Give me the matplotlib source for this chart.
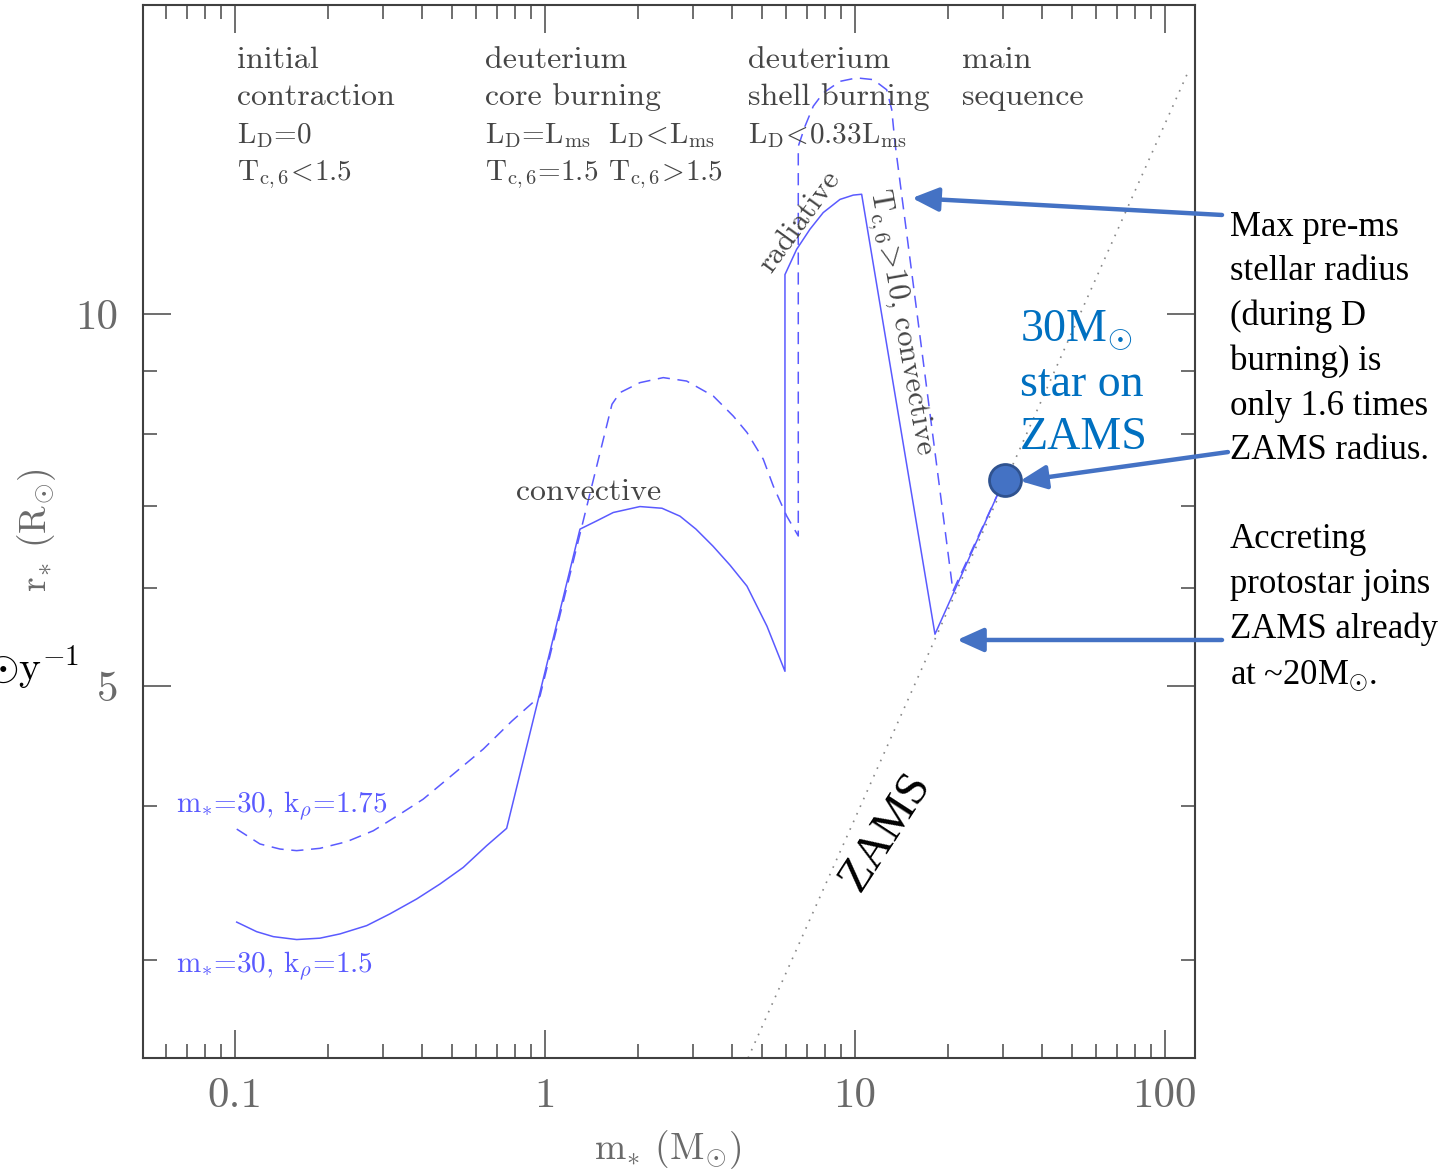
import numpy as np
import matplotlib
matplotlib.use("Agg")
import matplotlib.pyplot as plt
from matplotlib.patches import FancyArrowPatch
from matplotlib.ticker import FixedLocator, NullFormatter

# ==========================================
# 資料：質量 (M_sun) 與 半徑 (R_sun)
# ==========================================
# m*=30, k_rho=1.5 (實線)
solid_mass = [0.1013, 0.1175, 0.1329, 0.1581, 0.188, 0.2182, 0.266, 0.3162, 0.3856, 0.4584,
              0.5451, 0.6483, 0.7522,
              1.297, 1.469, 1.661, 2.025, 2.385, 2.726, 3.07, 3.483, 3.953, 4.483, 5.202, 5.946,
              5.946, 6.486, 7.159, 7.901, 8.947, 9.874, 10.51,
              18.12, 29.36]
solid_radius = [3.221, 3.164, 3.135, 3.118, 3.126, 3.151, 3.2, 3.271, 3.363, 3.458,
                3.567, 3.714, 3.836,
                6.701, 6.805, 6.912, 6.989, 6.967, 6.865, 6.701, 6.492, 6.266, 6.026, 5.592, 5.141,
                10.77, 11.29, 11.72, 12.09, 12.39, 12.49, 12.51,
                5.509, 7.218]

# m*=30, k_rho=1.75 (虛線)
dashed_mass = [0.1013, 0.1204, 0.1397, 0.1581, 0.188, 0.2293, 0.2794, 0.3405, 0.4049, 0.506,
               0.6324, 0.7825, 0.9636,
               1.645, 1.746, 2.025, 2.407, 2.865, 3.491, 4.05, 4.483, 5.061, 5.451, 6.022, 6.564,
               6.564, 6.9, 7.336, 7.901, 8.947, 10.13, 11.46, 12.66, 13.14, 13.46,
               20.71, 29.36]
dashed_radius = [3.831, 3.726, 3.691, 3.68, 3.696, 3.742, 3.819, 3.939, 4.051, 4.244,
                 4.447, 4.686, 4.908,
                 8.457, 8.643, 8.805, 8.888, 8.831, 8.588, 8.273, 8.025, 7.634, 7.262, 6.867, 6.616,
                 13.68, 14.2, 14.74, 15.11, 15.44, 15.54, 15.49, 15.2, 14.65, 13.77,
                 5.97, 7.218]

# ZAMS (點線)
zams_mass = [4.52, 118.6]
zams_radius = [2.5, 15.7]

# 30 M_sun 星在 ZAMS 上的位置
star_mass = [30.5]
star_radius = [7.34]

x_ticks = [0.1, 1, 10, 100]
x_ticklabels = ["0.1", "1", "10", "100"]
y_ticks = [5, 10]
y_ticklabels = ["5", "10"]
x_minor = [m * d for d in [0.01, 0.1, 1, 10, 100] for m in range(2, 10)]
y_minor = [3, 4, 6, 7, 8, 9]

LINE_COLOR = "#5a5aff"
GRAY_TEXT = "#454545"
TICK_TEXT = "#6a6a6a"
ARROW_COLOR = "#4472c4"

# 不等號前後的數學間距稍微縮小
LT = r"$\!<\!$"
GT = r"$\!>\!$"

plt.rcParams["mathtext.fontset"] = "custom"
plt.rcParams["mathtext.rm"] = "Liberation Serif"
plt.rcParams["mathtext.it"] = "Liberation Serif:italic"
plt.rcParams["axes.unicode_minus"] = False

fig = plt.figure(figsize=(14.46, 11.76), dpi=100)
ax = fig.add_axes([0.0989, 0.1003, 0.7275, 0.8954])

ax.plot(zams_mass, zams_radius, color="#888888", lw=1.2, linestyle=(0, (1, 4)))
ax.plot(solid_mass, solid_radius, color=LINE_COLOR, lw=1.1)
ax.plot(dashed_mass, dashed_radius, color=LINE_COLOR, lw=1.1, dashes=(8, 5))
ax.plot(star_mass, star_radius, "o", ms=23, mfc="#4472c4", mec="#2f528f", mew=2,
        zorder=5, clip_on=False)

ax.set_xscale("log")
ax.set_yscale("log")
ax.set_xlim(0.0505, 125)
ax.set_ylim(2.5, 17.8)

# 刻度設定
ax.xaxis.set_major_locator(FixedLocator(x_ticks))
ax.xaxis.set_minor_locator(FixedLocator(x_minor))
ax.yaxis.set_major_locator(FixedLocator(y_ticks))
ax.yaxis.set_minor_locator(FixedLocator(y_minor))
ax.set_xticklabels(x_ticklabels, family="cmr10", fontsize=31, color=TICK_TEXT)
ax.set_yticklabels(y_ticklabels, family="cmr10", fontsize=31, color=TICK_TEXT)
ax.xaxis.set_minor_formatter(NullFormatter())
ax.yaxis.set_minor_formatter(NullFormatter())
ax.tick_params(which="both", direction="in", top=True, right=True, color="#555555", width=1.2)
ax.tick_params(which="major", length=20)
ax.tick_params(which="minor", length=10)
ax.tick_params(axis="x", which="major", pad=14)
ax.tick_params(axis="y", which="major", pad=18)
for s in ax.spines.values():
    s.set_color("#404040")
    s.set_linewidth(1.5)

# 軸標籤
ax.text(0.499, -0.087, r"m$_{*}$ (M$_{\odot}$)", transform=ax.transAxes, ha="center",
        va="center", family="cmr10", math_fontfamily="cm", fontsize=27, color=TICK_TEXT)
ax.text(-0.101, 0.501, r"r$_{*}$ (R$_{\odot}$)", transform=ax.transAxes, ha="center",
        va="center", rotation=90, family="cmr10", math_fontfamily="cm", fontsize=27,
        color=TICK_TEXT)

# 階段標註 (灰色)
def gray(x, y, s, size=23, **kw):
    ax.text(x, y, s, transform=ax.transAxes, family="cmr10", math_fontfamily="cm",
            fontsize=size, color=GRAY_TEXT, va="baseline", **kw)

gray(0.0894, 0.940, "initial")
gray(0.0894, 0.905, "contraction")
gray(0.0894, 0.869, r"L$_{\mathrm{D}}$=0", size=21)
gray(0.0894, 0.834, r"T$_{\mathrm{c,6}}$" + LT + "1.5", size=21)
gray(0.325, 0.940, "deuterium")
gray(0.325, 0.905, "core burning")
gray(0.325, 0.869, r"L$_{\mathrm{D}}$=L$_{\mathrm{ms}}$", size=21)
gray(0.325, 0.834, r"T$_{\mathrm{c,6}}$=1.5", size=21)
gray(0.442, 0.869, r"L$_{\mathrm{D}}$" + LT + r"L$_{\mathrm{ms}}$", size=21)
gray(0.442, 0.834, r"T$_{\mathrm{c,6}}$" + GT + "1.5", size=21)
gray(0.575, 0.940, "deuterium")
gray(0.575, 0.905, "shell burning")
gray(0.575, 0.869, r"L$_{\mathrm{D}}$" + LT + r"0.33L$_{\mathrm{ms}}$", size=21)
gray(0.779, 0.940, "main")
gray(0.779, 0.905, "sequence")
gray(0.355, 0.530, "convective")
ax.text(0.6245, 0.794, "radiative", transform=ax.transAxes, family="cmr10", fontsize=22,
        color=GRAY_TEXT, ha="center", va="center", rotation=54)
ax.text(0.719, 0.699, r"T$_{\mathrm{c,6}}$" + GT + "10, convective", transform=ax.transAxes,
        family="cmr10", math_fontfamily="cm", fontsize=22, color=GRAY_TEXT,
        ha="center", va="center", rotation=-80)

# 曲線標籤 (藍色)
ax.text(0.0314, 0.2336, r"m$_{*}$=30, k$_{\rho}$=1.75", transform=ax.transAxes, family="cmr10",
        math_fontfamily="cm", fontsize=21, color=LINE_COLOR, va="baseline")
ax.text(0.0314, 0.0817, r"m$_{*}$=30, k$_{\rho}$=1.5", transform=ax.transAxes, family="cmr10",
        math_fontfamily="cm", fontsize=21, color=LINE_COLOR, va="baseline")

# ZAMS 與 30 M_sun 標註
ax.text(0.7063, 0.2146, "ZAMS", transform=ax.transAxes, family="Liberation Serif",
        fontsize=34, color="black", ha="center", va="center", rotation=57)
ax.text(0.8337, 0.7123, "30M$_{\\odot}$\nstar on\nZAMS", transform=ax.transAxes,
        family="Liberation Serif", fontsize=33, color="#0070c0", ha="left", va="top",
        linespacing=1.35)

# 右側說明文字
fig.text(0.8506, 0.821, "Max pre-ms\nstellar radius\n(during D\nburning) is\nonly 1.6 times\nZAMS radius.",
         family="Liberation Serif", fontsize=25, color="black", ha="left", va="top",
         linespacing=1.46)
fig.text(0.8506, 0.555, "Accreting\nprotostar joins\nZAMS already\nat ~20M$_{\\odot}$.",
         family="Liberation Serif", fontsize=25, color="black", ha="left", va="top",
         linespacing=1.46)

# 箭頭
for tail, head in [((0.8451, 0.8172), (0.6307, 0.8316)),
                   ((0.8492, 0.6156), (0.7054, 0.5910)),
                   ((0.8451, 0.4558), (0.6618, 0.4558))]:
    fig.add_artist(FancyArrowPatch(tail, head, transform=fig.transFigure,
                                   arrowstyle="-|>,head_length=1.0,head_width=0.45",
                                   mutation_scale=16, color=ARROW_COLOR, lw=3.2,
                                   shrinkA=0, shrinkB=0))

# 左邊被裁切的文字殘留
fig.text(-0.010, 0.4200, r"$\odot\mathrm{y}^{-1}$", math_fontfamily="cm", fontsize=30,
         color="black", ha="left", va="baseline")

fig.savefig("out.png", dpi=100)
